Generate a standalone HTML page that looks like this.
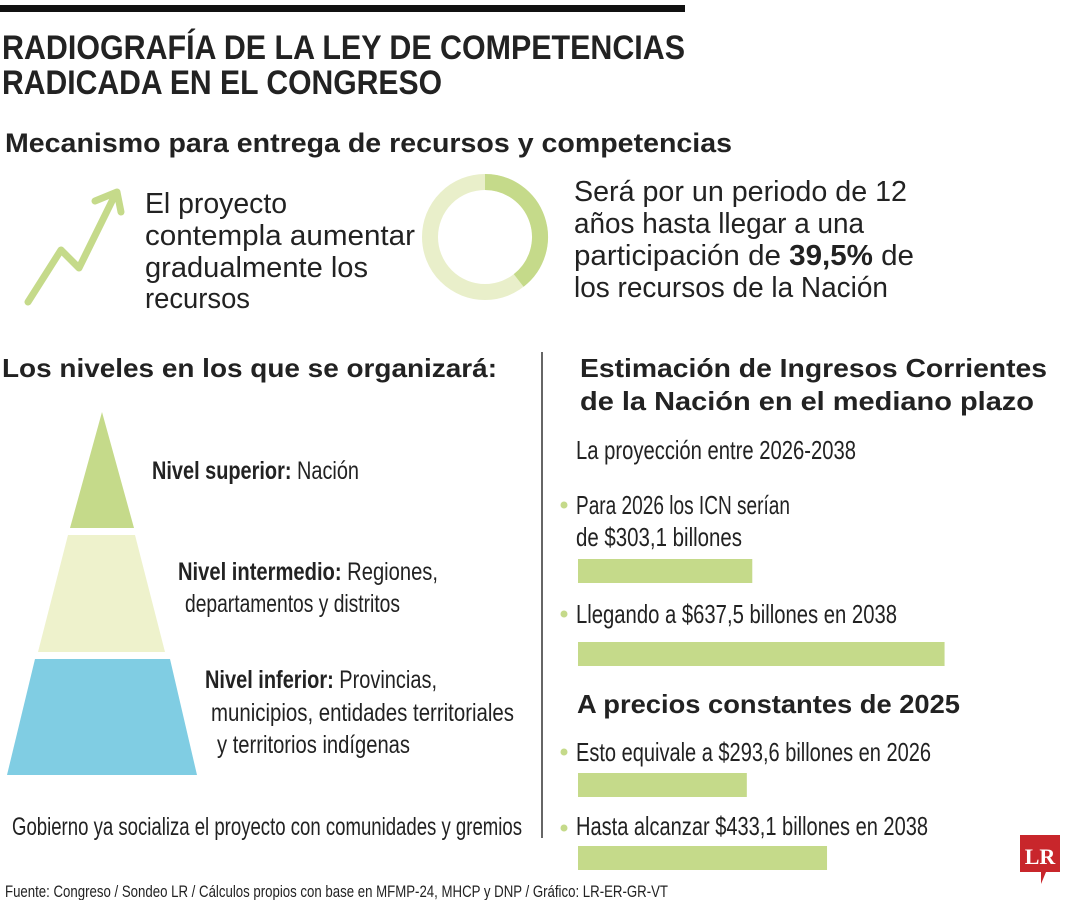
<!DOCTYPE html>
<html><head><meta charset="utf-8"><style>
html,body{margin:0;padding:0;background:#fff;width:1080px;height:900px;overflow:hidden}
svg{display:block}
.n{font-family:"Liberation Sans Narrow","Liberation Sans",sans-serif;fill:#222}
.s{font-family:"Liberation Sans",sans-serif;fill:#222}
</style></head><body>
<svg width="1080" height="900" viewBox="0 0 1080 900">
<rect x="0" y="5" width="685" height="7" fill="#111"/>
<text class="n" x="2" y="59" font-size="34" font-weight="bold" textLength="683" lengthAdjust="spacingAndGlyphs">RADIOGRAFÍA DE LA LEY DE COMPETENCIAS</text>
<text class="n" x="2" y="94" font-size="34" font-weight="bold" textLength="440" lengthAdjust="spacingAndGlyphs">RADICADA EN EL CONGRESO</text>
<text class="s" x="5" y="152" font-size="27" font-weight="bold" textLength="727" lengthAdjust="spacingAndGlyphs">Mecanismo para entrega de recursos y competencias</text>
<g fill="none" stroke="#c5da8a" stroke-width="7" stroke-linecap="round" stroke-linejoin="round">
<polyline points="28,302 61,250 79,268 114,197"/><polyline points="95,201 117,192 121,212"/>
</g>
<g class="s" font-size="29" font-weight="300">
<text x="145" y="213" textLength="142" lengthAdjust="spacingAndGlyphs">El proyecto</text>
<text x="145" y="245" textLength="270" lengthAdjust="spacingAndGlyphs">contempla aumentar</text>
<text x="145" y="277" textLength="223" lengthAdjust="spacingAndGlyphs">gradualmente los</text>
<text x="145" y="308" textLength="105" lengthAdjust="spacingAndGlyphs">recursos</text>
</g>
<g>
<circle cx="485" cy="237" r="55" fill="none" stroke="#e9efca" stroke-width="16"/>
<path id="arc" fill="none" stroke="#c5da8a" stroke-width="16"/>
</g>
<g class="s" font-size="29" font-weight="300">
<text x="574" y="201" textLength="333" lengthAdjust="spacingAndGlyphs">Será por un periodo de 12</text>
<text x="574" y="233" textLength="290" lengthAdjust="spacingAndGlyphs">años hasta llegar a una</text>
<text x="574" y="265" textLength="340" lengthAdjust="spacingAndGlyphs">participación de <tspan font-weight="bold">39,5%</tspan> de</text>
<text x="574" y="297" textLength="314" lengthAdjust="spacingAndGlyphs">los recursos de la Nación</text>
</g>
<text class="s" x="2" y="377" font-size="26" font-weight="bold" textLength="495" lengthAdjust="spacingAndGlyphs">Los niveles en los que se organizará:</text>
<line x1="542" y1="352" x2="542" y2="838" stroke="#333" stroke-width="1.5"/>
<polygon points="102,412 134,528 70,528" fill="#c5da8a"/>
<polygon points="68,535 135,535 165,652 38,652" fill="#eef2cc"/>
<polygon points="35,659 170,659 197,775 7,775" fill="#80cde3"/>
<g class="n" font-size="25">
<text x="152" y="479" textLength="207" lengthAdjust="spacingAndGlyphs"><tspan font-weight="bold">Nivel superior:</tspan> Nación</text>
<text x="178" y="580" textLength="260" lengthAdjust="spacingAndGlyphs"><tspan font-weight="bold">Nivel intermedio:</tspan> Regiones,</text>
<text x="185" y="612" textLength="215" lengthAdjust="spacingAndGlyphs">departamentos y distritos</text>
<text x="205" y="688" textLength="232" lengthAdjust="spacingAndGlyphs"><tspan font-weight="bold">Nivel inferior:</tspan> Provincias,</text>
<text x="211" y="721" textLength="303" lengthAdjust="spacingAndGlyphs">municipios, entidades territoriales</text>
<text x="217" y="753" textLength="193" lengthAdjust="spacingAndGlyphs">y territorios indígenas</text>
<text x="12" y="835" textLength="510" lengthAdjust="spacingAndGlyphs">Gobierno ya socializa el proyecto con comunidades y gremios</text>
</g>
<text class="s" x="580" y="377" font-size="26" font-weight="bold" textLength="467" lengthAdjust="spacingAndGlyphs">Estimación de Ingresos Corrientes</text>
<text class="s" x="580" y="410" font-size="26" font-weight="bold" textLength="454" lengthAdjust="spacingAndGlyphs">de la Nación en el mediano plazo</text>
<g class="n" font-size="26">
<text x="576" y="459" textLength="280" lengthAdjust="spacingAndGlyphs">La proyección entre 2026-2038</text>
<text x="576" y="514" textLength="214" lengthAdjust="spacingAndGlyphs">Para 2026 los ICN serían</text>
<text x="576" y="546" textLength="166" lengthAdjust="spacingAndGlyphs">de $303,1 billones</text>
<text x="576" y="623" textLength="321" lengthAdjust="spacingAndGlyphs">Llegando a $637,5 billones en 2038</text>
<text x="576" y="761" textLength="355" lengthAdjust="spacingAndGlyphs">Esto equivale a $293,6 billones en 2026</text>
<text x="576" y="835" textLength="352" lengthAdjust="spacingAndGlyphs">Hasta alcanzar $433,1 billones en 2038</text>
</g>
<text class="s" x="577" y="713" font-size="26" font-weight="bold" textLength="383" lengthAdjust="spacingAndGlyphs">A precios constantes de 2025</text>
<g fill="#c5da8a">
<circle cx="564" cy="505" r="3.5"/>
<circle cx="564" cy="614" r="3.5"/>
<circle cx="564" cy="752" r="3.5"/>
<circle cx="564" cy="828" r="3.5"/>
</g>
<g id="bars"></g>
<text class="n" x="5" y="897" font-size="17" textLength="663" lengthAdjust="spacingAndGlyphs">Fuente: Congreso / Sondeo LR / Cálculos propios con base en MFMP-24, MHCP y DNP / Gráfico: LR-ER-GR-VT</text>
<g>
<path d="M1020,835 H1060 V872 H1046 L1041,884 V872 H1020 Z" fill="#c8262b"/>
<text x="1040" y="864" text-anchor="middle" font-family="Liberation Serif,serif" font-weight="bold" font-size="22" fill="#fff">LR</text>
</g>
</svg>
<script>
const barLabels = ["ICN 2026", "ICN 2038", "Constantes 2026", "Constantes 2038"];
const barValues = [303.1, 637.5, 293.6, 433.1];
const ns = "http://www.w3.org/2000/svg";
const barTops = [559, 642, 773, 846];
const x0 = 578, scale = 0.575;
function xScale(v){ return v * scale; }
const g = document.getElementById('bars');
barValues.forEach((v, i) => {
  const r = document.createElementNS(ns, 'rect');
  r.setAttribute('x', x0);
  r.setAttribute('y', barTops[i]);
  r.setAttribute('width', xScale(v));
  r.setAttribute('height', 24);
  r.setAttribute('fill', '#c5da8a');
  
  
  g.appendChild(r);
});
const share = [39.5];
(function(){
  const cx = 485, cy = 237, r = 55;
  const a = share[0] / 100 * 2 * Math.PI;
  const ex = cx + r * Math.sin(a), ey = cy - r * Math.cos(a);
  document.getElementById('arc').setAttribute('d',
    `M${cx},${cy - r} A${r},${r} 0 ${a > Math.PI ? 1 : 0} 1 ${ex},${ey}`);
})();
</script>
</body></html>
